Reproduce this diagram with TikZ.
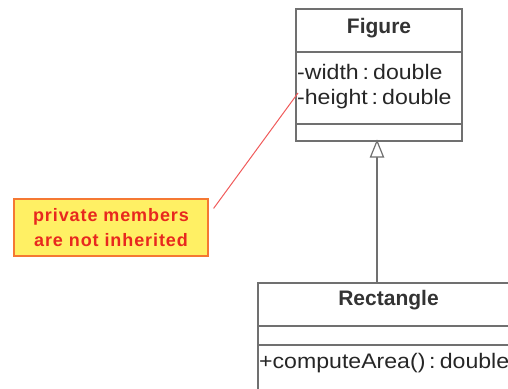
\documentclass[tikz,border=0pt]{standalone}
\usepackage{fontspec}
\setmainfont{Liberation Sans}
\newfontfamily\memberfont[FakeStretch=1.1]{Liberation Sans}
\newfontfamily\notefont[LetterSpace=5]{Liberation Sans}
\definecolor{boxgray}{RGB}{112,112,112}
\definecolor{notefill}{RGB}{255,240,100}
\definecolor{noteborder}{RGB}{245,120,50}
\definecolor{notetext}{RGB}{232,40,30}
\definecolor{linkred}{RGB}{240,90,90}
\newcommand{\typesep}{\hspace{0.18em}:\hspace{0.2em}}
\begin{document}
\begin{tikzpicture}[x=1pt,y=-1pt,
  umlbox/.style={draw=boxgray, line width=1.3pt},
  divider/.style={draw=boxgray, line width=1.3pt},
  member/.style={anchor=west, inner sep=0pt, font=\memberfont\fontsize{21}{22}\selectfont, text=black!85},
  classname/.style={inner sep=0pt, font=\fontsize{21}{22}\selectfont\bfseries, text=black!80},
  notebox/.style={draw=noteborder, line width=1.2pt, fill=notefill,
    minimum width=194pt, minimum height=57pt, inner sep=0pt, align=center,
    text=notetext, font=\notefont\fontsize{18}{25}\selectfont\bfseries},
  noteline/.style={draw=linkred, line width=1pt},
  generalization/.style={draw=boxgray, line width=1.2pt}]
\useasboundingbox (0,0) rectangle (508,388);
\clip (0,0) rectangle (508,388);

% class Figure
\draw[umlbox] (296,9) rectangle (462,141);
\draw[divider] (296,52) -- (462,52);
\draw[divider] (296,124) -- (462,124);
\node[classname] (figname) at (379,28) {Figure};
\node[member] (fwidth) at (297,72) {-width\typesep double};
\node[member] (fheight) at (297,99) {-height\typesep double};
\coordinate (figbottom) at (377,141);

% class Rectangle
\draw[umlbox] (258,283) rectangle (520,400);
\draw[divider] (258,326) -- (520,326);
\draw[divider] (258,345) -- (520,345);
\node[classname] (rectname) at (388.5,300) {Rectangle};
\node[member] (rarea) at (259,363) {+computeArea()\typesep double};
\coordinate (recttop) at (377,283);

% inheritance arrow with hollow triangle
\coordinate (tribase) at (377,157);
\draw[generalization] (recttop) -- (tribase);
\draw[generalization, fill=white] (figbottom) -- (370.5,157) -- (383.5,157) -- cycle;

% note
\node[notebox] (note) at (111,227.5) {private members\\are not inherited};
\coordinate (noteanchor) at (298,93);
\draw[noteline] (note.north east) ++(5,10) -- (noteanchor);
\end{tikzpicture}
\end{document}
